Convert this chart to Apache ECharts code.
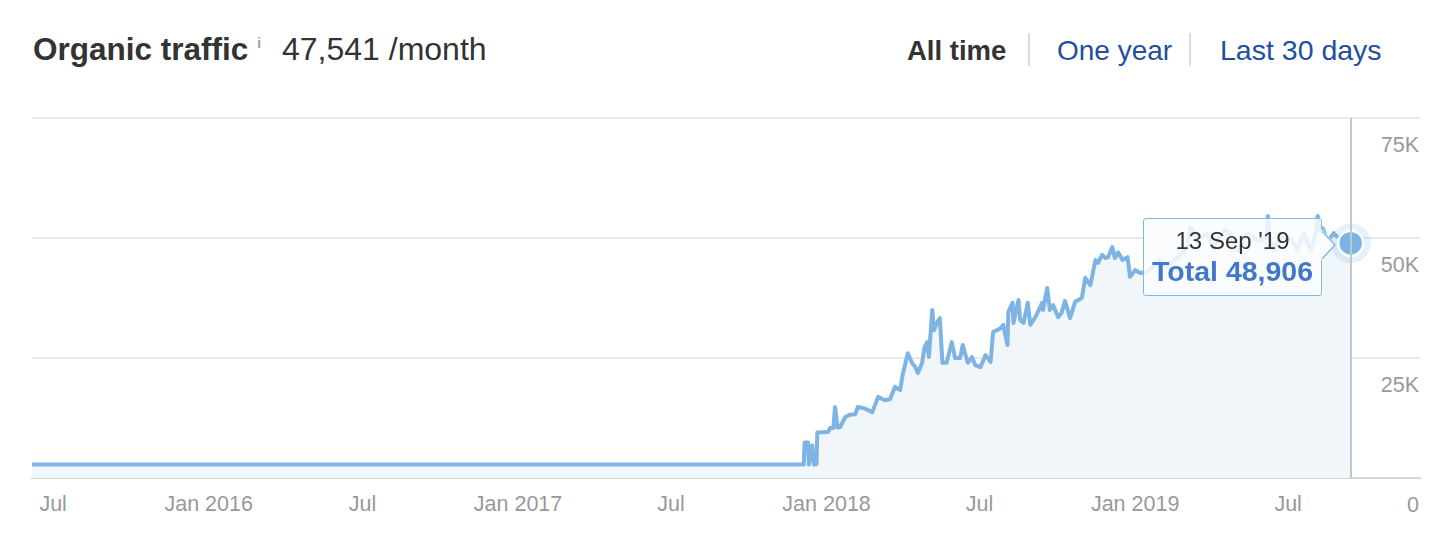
<!DOCTYPE html>
<html>
<head>
<meta charset="utf-8">
<script src="https://cdn.jsdelivr.net/npm/echarts@6/dist/echarts.min.js"></script>
<style>
html,body{margin:0;padding:0;background:#fff;}
#chart{width:1448px;height:544px;}
</style>
</head>
<body>
<div id="chart"></div>
<script>
// ---- data ----
const dates = [
  '2015-06-06','2017-12-05','2017-12-06','2017-12-10','2017-12-11','2017-12-15','2017-12-17','2017-12-20','2017-12-21',
  '2018-01-03','2018-01-05','2018-01-09','2018-01-11','2018-01-14','2018-01-17','2018-01-23','2018-01-29','2018-02-04','2018-02-07','2018-02-15','2018-02-24',
  '2018-03-03','2018-03-11','2018-03-17','2018-03-23','2018-03-29','2018-04-01','2018-04-07','2018-04-12','2018-04-16','2018-04-19','2018-04-24','2018-04-27','2018-04-30',
  '2018-05-02','2018-05-06','2018-05-08','2018-05-12','2018-05-15','2018-05-18','2018-05-23','2018-05-29','2018-06-02','2018-06-08','2018-06-11','2018-06-17','2018-06-22','2018-06-26',
  '2018-07-02','2018-07-08','2018-07-14','2018-07-17','2018-07-26','2018-07-29','2018-08-03','2018-08-04','2018-08-09','2018-08-10','2018-08-16','2018-08-18','2018-08-22','2018-08-27','2018-08-30',
  '2018-09-05','2018-09-13','2018-09-14','2018-09-19','2018-09-22','2018-09-26','2018-10-02','2018-10-06','2018-10-10','2018-10-16','2018-10-22','2018-10-30',
  '2018-11-03','2018-11-09','2018-11-15','2018-11-18','2018-11-23','2018-11-27','2018-11-30','2018-12-05','2018-12-08','2018-12-12','2018-12-17','2018-12-23','2018-12-26',
  '2019-01-01','2019-01-07','2019-01-15','2019-01-22','2019-01-30','2019-02-08','2019-02-20','2019-02-27','2019-03-04','2019-03-07','2019-03-19','2019-03-27','2019-04-03','2019-04-17','2019-04-23',
  '2019-05-02','2019-05-14','2019-05-26','2019-06-05','2019-06-07','2019-06-09','2019-06-14','2019-06-22','2019-07-04','2019-07-12','2019-07-19','2019-07-28','2019-08-02','2019-08-05','2019-08-07','2019-08-11','2019-08-17','2019-08-24','2019-08-27','2019-09-13'
];
const traffic = [
  2800,2800,7400,7400,2800,6800,2800,2900,9500,
  9600,10400,10400,14800,10500,10600,12700,13200,13300,14800,14500,13700,
  16900,16200,16400,19000,18300,21500,26000,24000,23100,21900,24000,27300,28300,
  25200,35000,30800,32500,33300,24000,24000,28300,25000,25000,27700,24000,25200,23500,
  23100,25600,24200,30400,31200,31900,27700,34600,36500,32300,37100,32900,32300,36500,31900,
  33500,36500,35000,39600,35000,36000,33500,34400,36900,33300,36700,37500,
  41700,40200,45400,44800,46500,45800,46000,48100,45800,47000,45400,46000,41900,
  43300,42700,42900,44000,45400,44000,46000,47000,48500,52300,50000,51000,48000,51700,51000,
  47500,51000,49400,50000,54600,50000,47500,50400,49800,47500,51000,47500,50500,54600,51500,52000,49400,51000,50400,48906
];
const xTickDates = ['2015-07-01','2016-01-01','2016-07-01','2017-01-01','2017-07-01','2018-01-01','2018-07-01','2019-01-01','2019-07-01'];
const yTicks = [0, 25000, 50000, 75000];
const xRange = ['2015-06-06', '2019-12-04'];
const headerTitle = 'Organic traffic';
const headerValue = '47,541 /month';
const periodTabs = ['All time', 'One year', 'Last 30 days'];
const monthNames = ['Jan','Feb','Mar','Apr','May','Jun','Jul','Aug','Sep','Oct','Nov','Dec'];

// ---- chart ----
const FONT = '"Liberation Sans", Arial, Helvetica, sans-serif';
const chart = echarts.init(document.getElementById('chart'), null, {renderer: 'svg'});
const toTime = s => echarts.time.parse(s).getTime();
const seriesData = dates.map((d, i) => [toTime(d), traffic[i]]);
const lastIdx = dates.length - 1;
const lastPoint = [toTime(dates[lastIdx]), traffic[lastIdx]];
const tickTimes = xTickDates.map(toTime);

function tipHtml() {
  const d = echarts.time.parse(dates[lastIdx]);
  const dateStr = d.getDate() + ' ' + monthNames[d.getMonth()] + " '" + String(d.getFullYear()).slice(2);
  const total = traffic[lastIdx].toLocaleString('en-US');
  return '<div style="position:relative;text-align:center;font-family:' + FONT.replace(/"/g, "'") + ';">' +
    '<div style="font-size:24px;line-height:28px;color:#333;">' + dateStr + '</div>' +
    '<div style="font-size:28.5px;line-height:32px;font-weight:bold;color:#4278c8;">Total ' + total + '</div>' +
    '<svg style="position:absolute;right:-24px;top:3px;overflow:visible" width="16" height="30">' +
    '<path d="M0,0 L2,0 L15,15 L2,30 L0,30 Z" fill="#fbfcfe" stroke="none"/>' +
    '<path d="M1,1 L14,15 L1,29" fill="none" stroke="#86b6e6" stroke-width="1.5"/></svg>' +
    '</div>';
}

const option = {
  animation: false,
  grid: {left: 32, right: 28, top: 118, bottom: 66, containLabel: false},
  graphic: [
    {type: 'text', x: 33, y: 49, style: {text: headerTitle, font: 'bold 31.5px ' + FONT, fill: '#333', verticalAlign: 'middle'}},
    {type: 'text', x: 257, y: 42, style: {text: 'i', font: 'bold 15px ' + FONT, fill: '#a5a5a5', verticalAlign: 'middle'}},
    {type: 'text', x: 282, y: 49, style: {text: headerValue, font: '32px ' + FONT, fill: '#333', verticalAlign: 'middle'}},
    {type: 'text', x: 907, y: 50, style: {text: periodTabs[0], font: 'bold 27.5px ' + FONT, fill: '#333', verticalAlign: 'middle'}},
    {type: 'line', shape: {x1: 1029, y1: 33, x2: 1029, y2: 66}, style: {stroke: '#dcdcdc', lineWidth: 2}},
    {type: 'text', x: 1057, y: 50, style: {text: periodTabs[1], font: '28px ' + FONT, fill: '#214f9e', verticalAlign: 'middle'}},
    {type: 'line', shape: {x1: 1190, y1: 33, x2: 1190, y2: 66}, style: {stroke: '#dcdcdc', lineWidth: 2}},
    {type: 'text', x: 1220, y: 50, style: {text: periodTabs[2], font: '28.5px ' + FONT, fill: '#214f9e', verticalAlign: 'middle'}}
  ],
  tooltip: {
    trigger: 'item',
    triggerOn: 'none',
    alwaysShowContent: true,
    transitionDuration: 0,
    backgroundColor: 'rgba(250,251,253,0.85)',
    borderColor: '#86b6e6',
    borderWidth: 1.5,
    borderRadius: 3,
    padding: [8, 8, 8, 8],
    extraCssText: 'box-shadow:none;',
    formatter: tipHtml,
    position: function (point, params, dom, rect, size) {
      let cx = point[0], cy = point[1];
      if (rect) { cx = rect.x + rect.width / 2; cy = rect.y + rect.height / 2; }
      return [cx - 29 - size.contentSize[0], cy - 25];
    }
  },
  xAxis: {
    type: 'value',
    min: toTime(xRange[0]),
    max: toTime(xRange[1]),
    axisLine: {show: true, onZero: false, lineStyle: {color: '#d6d6d6', width: 2}},
    axisTick: {show: true, inside: true, length: 12, customValues: tickTimes, lineStyle: {color: '#cfcfcf', width: 1.5}},
    splitLine: {show: false},
    axisLabel: {
      customValues: tickTimes,
      margin: 15,
      color: '#999',
      fontSize: 21.5,
      fontFamily: FONT,
      formatter: function (v) {
        const d = new Date(v);
        return d.getMonth() === 0 ? 'Jan ' + d.getFullYear() : 'Jul';
      }
    }
  },
  yAxis: {
    type: 'value',
    position: 'right',
    min: yTicks[0],
    max: yTicks[yTicks.length - 1],
    interval: yTicks[1] - yTicks[0],
    axisLine: {show: false},
    axisTick: {show: false},
    splitLine: {show: true, lineStyle: {color: '#e9e9e9', width: 2}},
    axisLabel: {
      inside: true,
      margin: 1,
      color: '#999',
      fontSize: 21.5,
      fontFamily: FONT,
      verticalAlign: 'top',
      padding: [16, 0, 0, 0],
      formatter: v => v === 0 ? '0' : (v / 1000) + 'K'
    }
  },
  series: [
    {
      type: 'line',
      data: seriesData,
      showSymbol: false,
      symbol: 'none',
      lineStyle: {color: '#7eb4e4', width: 4, join: 'round'},
      areaStyle: {color: '#f1f6fb', opacity: 1},
      markLine: {
        silent: true,
        symbol: ['none', 'none'],
        label: {show: false},
        lineStyle: {color: '#c4c8cd', width: 2, type: 'solid'},
        data: [{xAxis: lastPoint[0]}]
      },
      z: 2
    },
    {
      type: 'scatter',
      data: [lastPoint],
      symbolSize: 40,
      itemStyle: {color: 'rgba(126,180,228,0.24)'},
      silent: true,
      z: 3
    },
    {
      type: 'scatter',
      data: [lastPoint],
      symbolSize: 25,
      itemStyle: {color: '#7eb4e4', borderColor: '#ffffff', borderWidth: 2.5, opacity: 1},
      emphasis: {disabled: true},
      z: 4
    }
  ]
};
chart.setOption(option);
chart.dispatchAction({type: 'showTip', seriesIndex: 2, dataIndex: 0});
</script>
</body>
</html>
